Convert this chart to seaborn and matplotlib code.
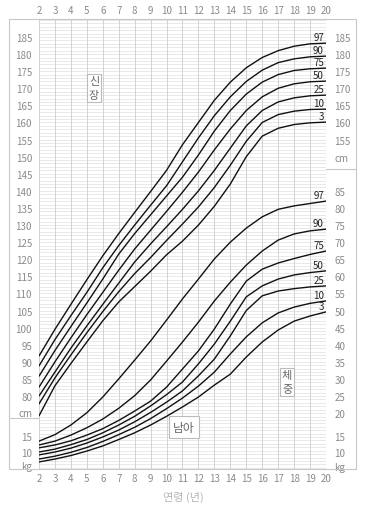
import numpy as np
import pandas as pd
import matplotlib
matplotlib.use("Agg")
import matplotlib.pyplot as plt
import seaborn as sns
from matplotlib.patches import Rectangle
from matplotlib.transforms import blended_transform_factory

# ---------------- data ----------------
ages = list(range(2, 21))
percentiles = ["97", "90", "75", "50", "25", "10", "3"]

height_97 = [91.7, 99.5, 106.8, 114.0, 121.0, 127.5, 133.7, 139.8, 146.0, 153.5, 160.0, 166.5, 171.8, 176.0, 179.0, 181.0, 182.3, 183.0, 183.2]
height_90 = [88.8, 96.5, 103.5, 110.3, 117.5, 124.0, 130.0, 135.8, 141.5, 148.5, 155.5, 162.0, 167.5, 172.0, 175.3, 177.5, 178.6, 179.2, 179.4]
height_75 = [85.8, 93.3, 100.3, 107.2, 114.2, 121.5, 127.5, 133.0, 138.5, 144.0, 150.5, 157.5, 163.5, 168.3, 171.8, 174.0, 175.2, 175.7, 175.9]
height_50 = [82.6, 90.0, 97.0, 103.8, 110.3, 116.8, 123.0, 128.5, 134.0, 139.6, 145.5, 152.0, 158.1, 163.5, 167.5, 170.0, 171.3, 171.9, 172.1]
height_25 = [80.0, 87.0, 94.0, 100.5, 106.8, 113.0, 119.2, 124.5, 129.5, 134.6, 140.0, 146.0, 152.5, 159.0, 163.5, 166.0, 167.2, 167.8, 168.0]
height_10 = [77.7, 85.3, 92.0, 98.5, 104.7, 110.5, 115.8, 120.5, 125.5, 130.3, 135.3, 141.0, 147.5, 154.5, 160.0, 162.3, 163.3, 163.8, 163.9]
height_3 = [74.2, 83.0, 89.5, 95.8, 102.0, 107.5, 112.0, 116.5, 121.3, 125.3, 130.0, 135.5, 142.0, 150.0, 156.0, 158.3, 159.4, 159.9, 160.1]

weight_97 = [13.4, 15.3, 17.4, 20.1, 24.7, 30.0, 35.5, 41.1, 47.2, 53.4, 59.2, 65.1, 70.0, 74.1, 77.4, 79.6, 80.6, 81.3, 82.0]
weight_90 = [12.2, 13.4, 15.2, 16.8, 18.7, 21.4, 25.1, 29.7, 35.2, 40.8, 46.6, 52.8, 58.3, 63.3, 67.4, 70.6, 72.4, 73.3, 73.8]
weight_75 = [11.3, 12.2, 13.5, 15.2, 16.6, 18.4, 20.6, 23.5, 27.6, 32.9, 38.2, 44.6, 51.9, 58.6, 62.1, 63.9, 65.2, 66.4, 67.4]
weight_50 = [10.0, 10.9, 12.3, 13.9, 15.7, 17.4, 19.3, 22.1, 25.4, 29.1, 34.4, 40.2, 46.9, 54.0, 57.2, 59.2, 60.4, 61.1, 61.6]
weight_25 = [9.1, 10.0, 11.2, 12.8, 14.7, 16.3, 18.1, 20.2, 23.2, 26.5, 30.9, 35.8, 42.6, 50.0, 54.3, 55.7, 56.4, 56.9, 57.2]
weight_10 = [7.8, 8.7, 9.9, 11.4, 13.3, 15.3, 16.9, 18.8, 21.3, 24.4, 27.9, 32.0, 37.3, 42.3, 46.4, 49.3, 51.0, 52.1, 52.8]
weight_3 = [6.9, 7.8, 8.9, 10.3, 11.9, 13.9, 15.7, 17.4, 19.3, 21.8, 24.7, 28.2, 31.4, 36.4, 40.8, 44.3, 46.9, 48.4, 49.6]

heights = [height_97, height_90, height_75, height_50, height_25, height_10, height_3]
weights = [weight_97, weight_90, weight_75, weight_50, weight_25, weight_10, weight_3]

height_ticks_left = [185, 180, 175, 170, 165, 160, 155, 150, 145, 140, 135, 130,
                     125, 120, 115, 110, 105, 100, 95, 90, 85, 80]
height_ticks_right = [185, 180, 175, 170, 165, 160, 155]
weight_ticks_right = [85, 80, 75, 70, 65, 60, 55, 50, 45, 40, 35, 30, 25, 20, 15, 10]
weight_ticks_lower = [15, 10]

# weight scale of the chart (kg -> height-grid units), compressed below 20 kg
W_KNOTS = [0, 10, 15, 20, 200]
H_KNOTS = [54.26, 63.62, 68.30, 75.0, 255.0]


def w_fwd(w):
    return np.interp(w, W_KNOTS, H_KNOTS)


def w_inv(h):
    return np.interp(h, H_KNOTS, W_KNOTS)


# ---------------- style ----------------
sns.set_theme(style="white")
plt.rcParams["font.family"] = ["Noto Sans CJK KR", "DejaVu Sans"]

LABEL_C = "#8a8a8a"
GRID_H = "#e0e0e0"
GRID_V = "#d2d2d2"
LINE_C = "#111111"

fig = plt.figure(figsize=(3.66, 5.10), dpi=100)
ax = fig.add_axes([39 / 366, 40 / 510, 287 / 366, 450 / 510])

H_LO, H_HI = 58.65, 190.26
ax.set_xlim(2, 20)
ax.set_ylim(H_LO, H_HI)

# grid
ax.hlines(np.arange(59, 191), 2, 20, color=GRID_H, lw=0.5, zorder=0)
ax.vlines(ages, H_LO, H_HI, color=GRID_V, lw=0.7, zorder=0)

# height curves
for p, h in zip(percentiles, heights):
    sns.lineplot(x=ages, y=h, ax=ax, color=LINE_C, lw=1.0)
    ax.annotate(p, xy=(20, h[-1]), xytext=(-1.5, 0.8), textcoords="offset points",
                ha="right", va="bottom", fontsize=7, color="#222222")

# weight axis
ax2 = ax.twinx()
ax2.set_yscale("function", functions=(w_fwd, w_inv))
for p, w in zip(percentiles, weights):
    sns.lineplot(x=ages, y=w, ax=ax2, color=LINE_C, lw=1.0)
    ax2.annotate(p, xy=(20, w[-1]), xytext=(-1.5, 0.8), textcoords="offset points",
                 ha="right", va="bottom", fontsize=7, color="#222222")
ax2.set_ylim(w_inv(H_LO), w_inv(H_HI))
ax.set_xlim(2, 20)

# ticks ---------------------------------------------------
left_pos = height_ticks_left + [75.3] + [float(w_fwd(v)) for v in weight_ticks_lower] + [59.8]
left_lab = [str(v) for v in height_ticks_left] + ["cm"] + [str(v) for v in weight_ticks_lower] + ["kg"]
ax.set_yticks(left_pos, left_lab)
ax.set_xticks(ages)
ax.tick_params(axis="x", length=0, labeltop=True, labelbottom=True, top=False, bottom=False,
               labelsize=7, labelcolor=LABEL_C, pad=3)
ax.tick_params(axis="y", length=0, labelsize=7, labelcolor=LABEL_C, pad=5)
ax.set_xlabel("")
ax.set_ylabel("")

ax2.set_yticks(weight_ticks_right + [5.63], [str(v) for v in weight_ticks_right] + ["kg"])
ax2.tick_params(axis="y", length=0, labelsize=7, labelcolor=LABEL_C, pad=6)
ax2.set_ylabel("")

sec = ax.secondary_yaxis("right")
sec.set_yticks(height_ticks_right + [149.9], [str(v) for v in height_ticks_right] + ["cm"])
sec.tick_params(axis="y", length=0, labelsize=7, labelcolor=LABEL_C, pad=6)

for a in (ax, ax2):
    for s in a.spines.values():
        s.set_visible(False)
for s in sec.spines.values():
    s.set_visible(False)

# frame and section separators
fig.add_artist(Rectangle((9 / 366, 40 / 510), 347 / 366, 450 / 510, transform=fig.transFigure,
                         fill=False, ec="#c8c8c8", lw=0.8))
trans = blended_transform_factory(ax.transAxes, ax.transData)
ax.plot([-30 / 287, 0], [73.6, 73.6], transform=trans, color="#c8c8c8", lw=0.8, clip_on=False)
ax.plot([1, 1 + 30 / 287], [146.4, 146.4], transform=trans, color="#c8c8c8", lw=0.8, clip_on=False)

# boxed labels
box = dict(boxstyle="square,pad=0.2", fc="white", ec="#bbbbbb", lw=0.8)
ax.text(5.45, 170, "신\n장", ha="center", va="center", fontsize=8, color="#666666",
        linespacing=1.5, bbox=box, zorder=5)
ax.text(17.56, 84.1, "체\n중", ha="center", va="center", fontsize=8, color="#666666",
        linespacing=1.5, bbox=box, zorder=5)
ax.text(11.1, 70.9, "남아", ha="center", va="center", fontsize=8.5, color="#666666",
        bbox=dict(boxstyle="square,pad=0.35", fc="white", ec="#bbbbbb", lw=0.8), zorder=5)

fig.text(183 / 366, 1 - 497 / 510, "연령 (년)", ha="center", va="center", fontsize=8, color="#b5b5b5")

fig.savefig("out.png", dpi=100)
